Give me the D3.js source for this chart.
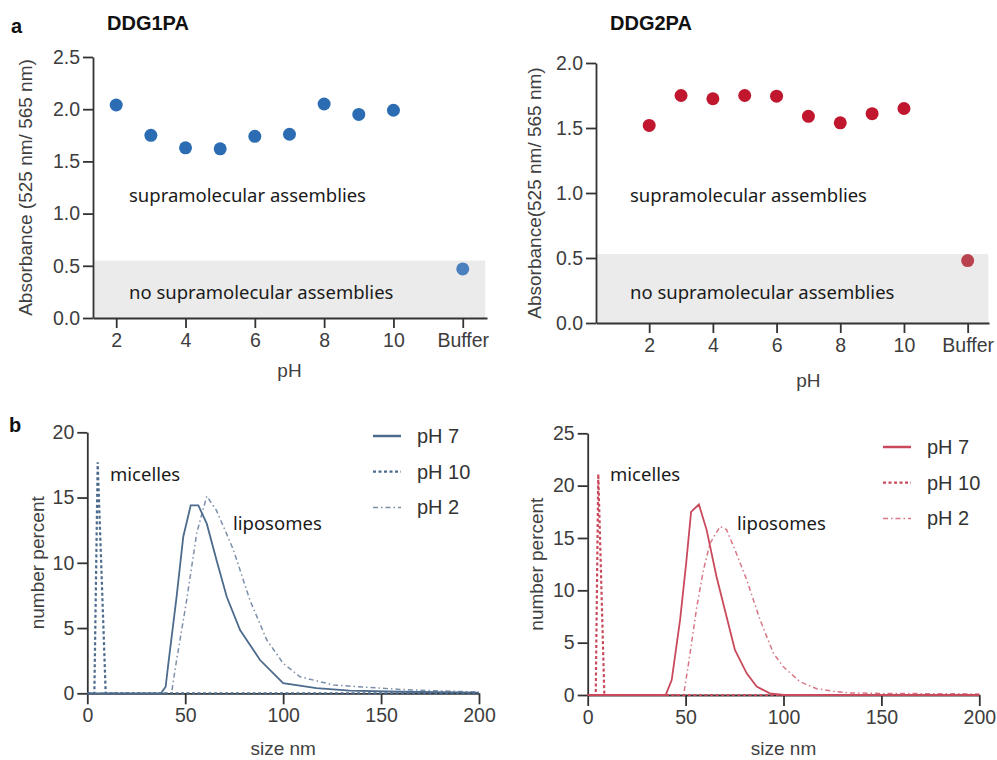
<!DOCTYPE html>
<html>
<head>
<meta charset="utf-8">
<script src="https://cdn.jsdelivr.net/npm/d3@7"></script>
<style>
  body { margin: 0; background: #fff; }
  svg text { font-family: "Liberation Sans", Arial, sans-serif; }
  .tick text { fill: #3d3d3d; font-size: 19.5px; }
  .note { font-family: "Noto Sans", "Open Sans", sans-serif !important; font-size: 18.5px; fill: #1a1a1a; }
</style>
</head>
<body>
<svg id="chart" width="997" height="760"></svg>
<script>
// ---- panel a: absorbance ratio vs pH (Buffer sits at position 12) ----
const phLevels = [2, 3, 4, 5, 6, 7, 8, 9, 10, 12];
const phTicks = [2, 4, 6, 8, 10, 12];
const ddg1Abs = [2.04, 1.75, 1.63, 1.62, 1.74, 1.76, 2.05, 1.95, 1.99, 0.47];
const ddg2Abs = [1.52, 1.75, 1.725, 1.75, 1.745, 1.59, 1.54, 1.61, 1.65, 0.48];
const noAssemblyLimit = { ddg1: 0.55, ddg2: 0.53 };

// ---- panel b: DLS number distributions ----
const ddg1Size7 = [0, 37.6, 40, 41.4, 45.6, 49, 52.8, 56.7, 61, 66, 71.2, 78, 88.2, 100, 117, 134, 160, 200];
const ddg1Pct7 = [0, 0, 0.5, 2.3, 7.4, 12.0, 14.4, 14.4, 13.0, 10.2, 7.4, 4.85, 2.55, 0.77, 0.4, 0.2, 0.12, 0.05];
const ddg1Size10 = [0, 3.6, 5.3, 9.4, 200];
const ddg1Pct10 = [0, 0, 17.7, 0, 0];
const ddg1Size2 = [0, 43, 45, 50.8, 55.9, 61, 66, 74.6, 83, 91.6, 100, 108.6, 125.6, 142.7, 159.7, 176.7, 200];
const ddg1Pct2 = [0, 0, 2.0, 7.2, 12.3, 15.1, 14.0, 11.0, 7.15, 4.1, 2.3, 1.27, 0.64, 0.46, 0.3, 0.2, 0.1];

const ddg2Size7 = [0, 39.8, 42.9, 47.2, 50.3, 52.8, 56.8, 60.7, 65.8, 70.9, 75.2, 81.2, 86.3, 93, 100, 200];
const ddg2Pct7 = [0, 0, 1.43, 7.2, 12.6, 17.5, 18.2, 15.8, 11.3, 7.5, 4.3, 2.07, 0.8, 0.16, 0, 0];
const ddg2Size10 = [0, 4.1, 5.4, 8.5, 200];
const ddg2Pct10 = [0, 0, 21.1, 0, 0];
const ddg2Size2 = [0, 49, 52.3, 55.7, 59.1, 62.5, 67.6, 70.9, 76, 81.2, 88, 94.8, 99.9, 108.4, 117, 125.4, 134, 150, 200];
const ddg2Pct2 = [0, 0, 4.0, 8.4, 11.95, 14.5, 16.1, 15.8, 13.5, 11.0, 7.2, 4.0, 2.7, 1.27, 0.6, 0.35, 0.2, 0.15, 0.1];

const legendLabels = ["pH 7", "pH 10", "pH 2"];

const svg = d3.select("#chart");

function scatterPanel(o) {
  const g = svg.append("g");
  const x = d3.scaleLinear().domain(o.xDomain).range(o.xRange);
  const y = d3.scaleLinear().domain([0, o.yMax]).range(o.yRange);

  // grey band = no assemblies
  g.append("rect")
    .attr("x", o.xRange[0]).attr("width", x(12.65) - o.xRange[0])
    .attr("y", y(o.limit)).attr("height", y(0) - y(o.limit))
    .attr("fill", "#ebebeb");

  const yAxis = g.append("g").attr("transform", `translate(${o.xRange[0]},0)`)
    .call(d3.axisLeft(y).tickValues(d3.range(0, o.yMax + 0.01, 0.5)).tickFormat(d3.format(".1f")).tickSize(10).tickSizeOuter(0).tickPadding(3));
  const xAxis = g.append("g").attr("transform", `translate(0,${o.yRange[0]})`)
    .call(d3.axisBottom(x).tickValues(phTicks).tickFormat(d => d === 12 ? "Buffer" : d).tickSize(10).tickSizeOuter(0).tickPadding(5));
  [xAxis, yAxis].forEach(a => {
    a.selectAll("path, line").attr("stroke", "#333").attr("stroke-width", 1.8);
  });

  g.selectAll("circle.pt").data(o.values).join("circle")
    .attr("class", "pt")
    .attr("cx", (d, i) => x(phLevels[i]))
    .attr("cy", d => y(d))
    .attr("r", 6.5)
    .attr("fill", (d, i) => phLevels[i] === 12 ? o.bufferColor : o.color);

  g.append("text").attr("class", "note").attr("x", o.noteX).attr("y", 202).text("supramolecular assemblies");
  g.append("text").attr("class", "note").attr("x", o.noteX).attr("y", 299).text("no supramolecular assemblies");

  g.append("text").attr("x", o.titleX).attr("y", 30).attr("font-size", 20).attr("font-weight", "bold").attr("fill", "#111").text(o.title);
  g.append("text").attr("text-anchor", "middle").attr("font-size", 19).attr("fill", "#404040")
    .attr("transform", `translate(${o.yTitleX},${(o.yRange[0] + o.yRange[1]) / 2}) rotate(-90)`)
    .text(o.yTitle);
  g.append("text").attr("text-anchor", "middle").attr("font-size", 19).attr("fill", "#404040")
    .attr("x", x(7)).attr("y", o.pHY).text("pH");
}

scatterPanel({
  title: "DDG1PA", titleX: 107, values: ddg1Abs, limit: noAssemblyLimit.ddg1,
  xDomain: [1.33, 12.7], xRange: [93, 487], yMax: 2.5, yRange: [318, 57],
  color: "#2b6cb2", bufferColor: "#4a80be", noteX: 129, yTitleX: 32, pHY: 377,
  yTitle: "Absorbance (525 nm/ 565 nm)"
});
scatterPanel({
  title: "DDG2PA", titleX: 610, values: ddg2Abs, limit: noAssemblyLimit.ddg2,
  xDomain: [0.33, 12.67], xRange: [596, 989], yMax: 2.0, yRange: [323, 63],
  color: "#c0172e", bufferColor: "#b9424f", noteX: 630, yTitleX: 541, pHY: 387,
  yTitle: "Absorbance(525 nm/ 565 nm)"
});

svg.append("text").attr("x", 11).attr("y", 33).attr("font-size", 20).attr("font-weight", "bold").attr("fill", "#111").text("a");
svg.append("text").attr("x", 9).attr("y", 432).attr("font-size", 20).attr("font-weight", "bold").attr("fill", "#111").text("b");

function dlsPanel(o) {
  const g = svg.append("g");
  const x = d3.scaleLinear().domain([0, 200]).range(o.xRange);
  const y = d3.scaleLinear().domain([0, o.yMax]).range(o.yRange);

  const xAxis = g.append("g").attr("transform", `translate(0,${o.yRange[0]})`)
    .call(d3.axisBottom(x).tickValues([0, 50, 100, 150, 200]).tickSize(11).tickSizeOuter(0).tickPadding(4));
  const yAxis = g.append("g").attr("transform", `translate(${o.xRange[0]},0)`)
    .call(d3.axisLeft(y).tickValues(d3.range(0, o.yMax + 1, 5)).tickSize(10).tickSizeOuter(0).tickPadding(3));
  [xAxis, yAxis].forEach(a => {
    a.selectAll("path, line").attr("stroke", "#333").attr("stroke-width", 1.8);
  });

  const line = d3.line().x(d => x(d[0])).y(d => y(d[1]));
  const styles = [
    { dash: null, width: 1.8, opacity: 1 },
    { dash: "3,2.5", width: 2.2, opacity: 1 },
    { dash: "5,3,1.5,3", width: 1.5, opacity: 0.75 }
  ];
  o.series.forEach((s, i) => {
    g.append("path")
      .datum(d3.zip(s[0], s[1]))
      .attr("d", line)
      .attr("fill", "none")
      .attr("stroke", o.color)
      .attr("stroke-width", styles[i].width)
      .attr("stroke-dasharray", styles[i].dash)
      .attr("stroke-opacity", styles[i].opacity);
  });

  // legend
  legendLabels.forEach((lab, i) => {
    const ly = o.legendY + i * 35.7;
    g.append("line").attr("x1", o.legendX).attr("x2", o.legendX + 28).attr("y1", ly).attr("y2", ly)
      .attr("stroke", o.color).attr("stroke-width", i === 0 ? 2.5 : styles[i].width)
      .attr("stroke-dasharray", styles[i].dash).attr("stroke-opacity", styles[i].opacity);
    g.append("text").attr("x", o.legendX + 44).attr("y", ly + 7).attr("font-size", 20).attr("fill", "#333").text(lab);
  });

  g.append("text").attr("class", "note").attr("x", o.micX).attr("y", 481).text("micelles");
  g.append("text").attr("class", "note").attr("x", o.lipX).attr("y", 530).text("liposomes");

  g.append("text").attr("text-anchor", "middle").attr("font-size", 19).attr("fill", "#404040")
    .attr("transform", `translate(${o.yTitleX},${(o.yRange[0] + o.yRange[1]) / 2}) rotate(-90)`)
    .text("number percent");
  g.append("text").attr("text-anchor", "middle").attr("font-size", 19).attr("fill", "#404040")
    .attr("x", x(100)).attr("y", 755).text("size nm");
}

dlsPanel({
  xRange: [87.3, 479], yMax: 20, yRange: [693.3, 432.3], color: "#4d6b8c",
  series: [[ddg1Size7, ddg1Pct7], [ddg1Size10, ddg1Pct10], [ddg1Size2, ddg1Pct2]],
  legendX: 373, legendY: 436, micX: 110, lipX: 233, yTitleX: 44
});
dlsPanel({
  xRange: [587.7, 979.3], yMax: 25, yRange: [695, 433.3], color: "#c94a5c",
  series: [[ddg2Size7, ddg2Pct7], [ddg2Size10, ddg2Pct10], [ddg2Size2, ddg2Pct2]],
  legendX: 883, legendY: 447, micX: 610, lipX: 737, yTitleX: 543
});
</script>
</body>
</html>
